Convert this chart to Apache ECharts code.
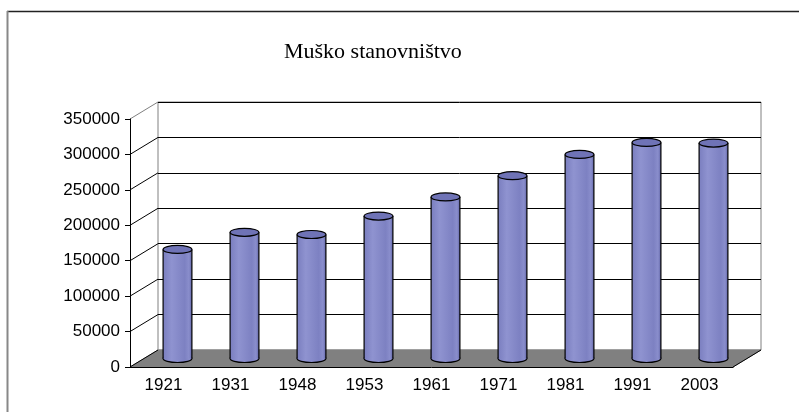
<!DOCTYPE html>
<html>
<head>
<meta charset="utf-8">
<script src="https://cdn.jsdelivr.net/npm/echarts@6/dist/echarts.min.js"></script>
<style>
  html, body { margin: 0; padding: 0; background: #fff; }
  #chart { width: 799px; height: 412px; }
</style>
</head>
<body>
<div id="chart"></div>
<script>
// data
var years = ['1921', '1931', '1948', '1953', '1961', '1971', '1981', '1991', '2003'];
var males = [154000, 178000, 175000, 201000, 228000, 258000, 288000, 305000, 304000];
var yTicks = [0, 50000, 100000, 150000, 200000, 250000, 300000, 350000];

// depth of the fake 3d box (back wall offset from the front axis)
var DX = 28, DY = -17;

var chart = echarts.init(document.getElementById('chart'));

var labelFont = { fontFamily: 'Liberation Sans', fontSize: 17, color: '#000' };

var option = {
    animation: false,
    backgroundColor: '#fff',
    title: {
        text: 'Muško stanovništvo',
        left: 279,
        top: 36,
        textStyle: { fontFamily: 'Liberation Serif', fontSize: 22, fontWeight: 'normal', color: '#000' }
    },
    graphic: [
        { type: 'line', shape: { x1: 7, y1: 11.5, x2: 799, y2: 11.5 }, style: { stroke: '#222', lineWidth: 1.5 } },
        { type: 'line', shape: { x1: 7.5, y1: 11, x2: 7.5, y2: 412 }, style: { stroke: '#888', lineWidth: 2 } }
    ],
    grid: [
        // front
        { left: 130, right: 66, top: 119, bottom: 45 },
        // back wall
        { left: 130 + DX, right: 66 - DX, top: 119 + DY, bottom: 45 - DY,
          show: true, borderColor: '#808080', borderWidth: 1, backgroundColor: '#fff' },
        // middle depth, where the cylinders stand
        { left: 130 + DX / 2, right: 66 - DX / 2, top: 119 + DY / 2, bottom: 45 - DY / 2 }
    ],
    xAxis: [
        {
            gridIndex: 0, type: 'category', data: years,
            axisLine: { lineStyle: { color: '#000', width: 1 } },
            axisTick: { length: 5, lineStyle: { color: '#000' } },
            axisLabel: Object.assign({ margin: 10 }, labelFont),
            splitLine: { show: false }, z: 5
        },
        { gridIndex: 1, type: 'category', data: years, show: false },
        { gridIndex: 2, type: 'category', data: years, show: false }
    ],
    yAxis: [
        {
            gridIndex: 0, type: 'value', min: 0, max: 350000, interval: 50000,
            axisLine: { show: true, lineStyle: { color: '#000', width: 1 } },
            axisTick: { show: true, length: 5, lineStyle: { color: '#000' } },
            axisLabel: Object.assign({ margin: 10, formatter: function (v) { return String(v); } }, labelFont),
            splitLine: { show: false }, z: 5
        },
        {
            gridIndex: 1, type: 'value', min: 0, max: 350000, interval: 50000,
            axisLine: { show: false }, axisTick: { show: false }, axisLabel: { show: false },
            splitLine: { show: true, lineStyle: { color: '#000', width: 1 } }
        },
        {
            gridIndex: 2, type: 'value', min: 0, max: 350000, interval: 50000, show: false,
            splitLine: { show: false }
        }
    ],
    series: [
        {
            // diagonal lines joining front ticks with back wall grid lines
            type: 'custom', xAxisIndex: 0, yAxisIndex: 0, z: 3,
            data: yTicks.map(function (v) { return [0, v]; }),
            renderItem: function (params, api) {
                var p = api.coord([0, api.value(1)]);
                var x0 = params.coordSys.x;
                var last = api.value(1) === yTicks[yTicks.length - 1];
                return {
                    type: 'line',
                    shape: { x1: x0, y1: p[1], x2: x0 + DX, y2: p[1] + DY },
                    style: { stroke: last ? '#808080' : '#000', lineWidth: 1 }
                };
            }
        },
        {
            // floor
            type: 'custom', xAxisIndex: 0, yAxisIndex: 0, z: 2,
            data: [[0, 0]],
            renderItem: function (params, api) {
                var cs = params.coordSys;
                var yb = cs.y + cs.height;
                return {
                    type: 'group',
                    children: [
                        {
                            type: 'polygon',
                            shape: { points: [[cs.x, yb], [cs.x + cs.width, yb], [cs.x + cs.width + DX, yb + DY], [cs.x + DX, yb + DY]] },
                            style: { fill: '#808080', stroke: '#808080', lineWidth: 1 }
                        },
                        {
                            type: 'line',
                            shape: { x1: cs.x + cs.width, y1: yb, x2: cs.x + cs.width + DX, y2: yb + DY },
                            style: { stroke: '#000', lineWidth: 1 }
                        }
                    ]
                };
            }
        },
        {
            // cylinders
            type: 'custom', xAxisIndex: 2, yAxisIndex: 2, z: 4,
            data: males.map(function (v, i) { return [i, v]; }),
            renderItem: function (params, api) {
                var base = api.coord([api.value(0), 0]);
                var top = api.coord([api.value(0), api.value(1)]);
                var w = api.size([1, 0])[0] * 0.43;
                var rx = w / 2, ry = 4;
                var cx = base[0];
                var grad = new echarts.graphic.LinearGradient(0, 0, 1, 0, [
                    { offset: 0, color: '#7a7ebf' },
                    { offset: 0.3, color: '#8f93d0' },
                    { offset: 0.75, color: '#7d81c2' },
                    { offset: 0.9, color: '#8a8ecc' },
                    { offset: 1, color: '#6266a8' }
                ]);
                return {
                    type: 'group',
                    children: [
                        {
                            type: 'ellipse',
                            shape: { cx: cx, cy: base[1], rx: rx, ry: ry },
                            style: { fill: grad, stroke: '#000', lineWidth: 1.2 }
                        },
                        {
                            type: 'rect',
                            shape: { x: cx - rx, y: top[1], width: w, height: base[1] - top[1] },
                            style: { fill: grad }
                        },
                        {
                            type: 'line',
                            shape: { x1: cx - rx, y1: top[1], x2: cx - rx, y2: base[1] },
                            style: { stroke: '#000', lineWidth: 1.2 }
                        },
                        {
                            type: 'line',
                            shape: { x1: cx + rx, y1: top[1], x2: cx + rx, y2: base[1] },
                            style: { stroke: '#000', lineWidth: 1.2 }
                        },
                        {
                            type: 'ellipse',
                            shape: { cx: cx, cy: top[1], rx: rx, ry: ry },
                            style: { fill: '#6f73b6', stroke: '#000', lineWidth: 1.2 }
                        }
                    ]
                };
            }
        }
    ]
};

chart.setOption(option);
</script>
</body>
</html>
